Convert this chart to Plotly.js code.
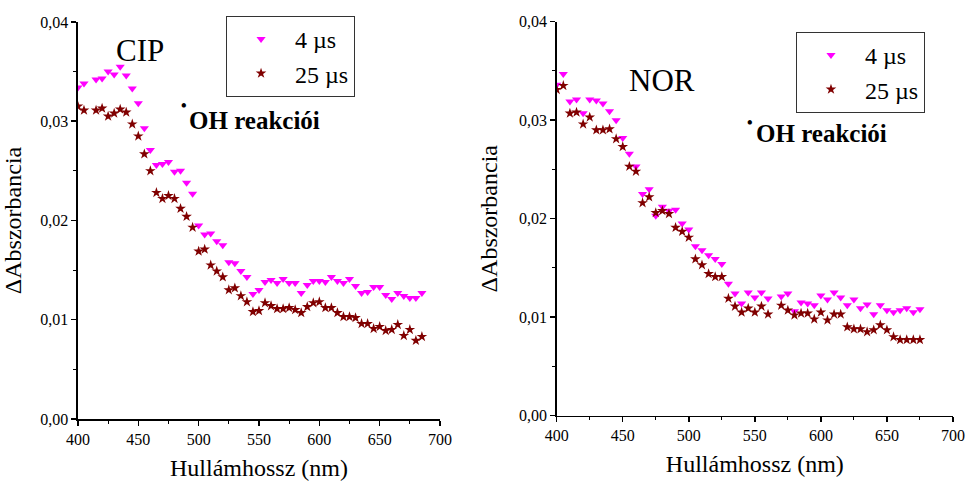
<!DOCTYPE html>
<html>
<head>
<meta charset="utf-8">
<script src="https://cdn.plot.ly/plotly-3.0.1.min.js"></script>
<style>html,body{margin:0;padding:0;background:#fff;}#chart{width:966px;height:482px;}</style>
</head>
<body>
<div id="chart"></div>
<script>
// CIP panel
var cipWavelength = [400,405,415,420,425,430,435,440,445,450,455,460,465,470,475,480,485,490,495,500,505,510,515,520,525,530,535,540,545,550,555,560,565,570,575,580,585,590,595,600,605,610,615,620,625,630,635,640,645,650,655,660,665,670,675,680,685];
var cip4us = [0.0334,0.0338,0.0342,0.0343,0.0350,0.0347,0.0355,0.0346,0.0333,0.0318,0.0293,0.0271,0.0256,0.0257,0.0259,0.0249,0.0250,0.0238,0.0227,0.0195,0.0186,0.0187,0.0179,0.0175,0.0158,0.0157,0.0149,0.0143,0.0126,0.0130,0.0138,0.0140,0.0137,0.0141,0.0137,0.0137,0.0127,0.0135,0.0139,0.0139,0.0138,0.0143,0.0139,0.0137,0.0141,0.0134,0.0127,0.0128,0.0133,0.0133,0.0125,0.0121,0.0127,0.0124,0.0122,0.0122,0.0127];
var cip25us = [0.0315,0.0311,0.0311,0.0313,0.0305,0.0308,0.0312,0.0309,0.0297,0.0285,0.0267,0.0250,0.0228,0.0222,0.0225,0.0222,0.0212,0.0204,0.0193,0.0169,0.0171,0.0155,0.0149,0.0143,0.0130,0.0132,0.0124,0.0118,0.0108,0.0109,0.0117,0.0114,0.0111,0.0111,0.0112,0.0110,0.0107,0.0113,0.0117,0.0118,0.0112,0.0112,0.0107,0.0103,0.0103,0.0102,0.0096,0.0096,0.0091,0.0093,0.0089,0.0090,0.0095,0.0084,0.0090,0.0079,0.0083];

// NOR panel
var norWavelength = [400,405,410,415,420,425,430,435,440,445,450,455,460,465,470,475,480,485,490,495,500,505,510,515,520,525,530,535,540,545,550,555,560,570,575,580,585,590,595,600,605,610,615,620,625,630,635,640,645,650,655,660,665,670,675];
var nor4us = [0.0336,0.0347,0.0319,0.0321,0.0307,0.0321,0.0320,0.0317,0.0309,0.0300,0.0282,0.0266,0.0253,0.0225,0.0230,0.0203,0.0212,0.0208,0.0209,0.0195,0.0189,0.0172,0.0168,0.0163,0.0159,0.0154,0.0134,0.0124,0.0114,0.0125,0.0120,0.0125,0.0119,0.0121,0.0124,0.0106,0.0115,0.0114,0.0112,0.0122,0.0118,0.0125,0.0120,0.0112,0.0118,0.0109,0.0113,0.0103,0.0112,0.0107,0.0105,0.0107,0.0109,0.0105,0.0108];
var nor25us = [0.0331,0.0335,0.0307,0.0308,0.0296,0.0303,0.0290,0.0290,0.0291,0.0281,0.0273,0.0253,0.0248,0.0216,0.0222,0.0206,0.0208,0.0205,0.0191,0.0187,0.0181,0.0159,0.0153,0.0144,0.0141,0.0141,0.0119,0.0111,0.0105,0.0109,0.0105,0.0111,0.0103,0.0112,0.0107,0.0102,0.0104,0.0104,0.0098,0.0105,0.0097,0.0103,0.0103,0.0090,0.0088,0.0088,0.0085,0.0087,0.0092,0.0087,0.0080,0.0077,0.0077,0.0077,0.0077];

var seriesNames = ['4 µs', '25 µs'];
var panelLabels = ['CIP', 'NOR'];
var xTitle = 'Hullámhossz (nm)';
var yTitle = 'ΔAbszorbancia';
var noteText = 'OH reakciói';

var FONT = 'Liberation Serif';
var C4 = '#FF00FF', C25 = '#800000';

function tr(x, y, name, color, symbol, xa, ya, lg) {
  return {x: x, y: y, name: name, type: 'scatter', mode: 'markers',
    xaxis: xa, yaxis: ya, legend: lg,
    marker: {color: color, symbol: symbol, size: 8, line: {width: 0}}};
}
var data = [
  tr(cipWavelength, cip4us, seriesNames[0], C4, 'triangle-down', 'x', 'y', 'legend'),
  tr(cipWavelength, cip25us, seriesNames[1], C25, 'star', 'x', 'y', 'legend'),
  tr(norWavelength, nor4us, seriesNames[0], C4, 'triangle-down', 'x2', 'y2', 'legend2'),
  tr(norWavelength, nor25us, seriesNames[1], C25, 'star', 'x2', 'y2', 'legend2')
];

function xax(dom, anchor) {
  return {domain: dom, anchor: anchor, range: [400, 700], tick0: 400, dtick: 50,
    ticks: 'outside', ticklen: 5, tickwidth: 1.5, tickcolor: 'black',
    showline: true, linewidth: 1.5, linecolor: 'black', showgrid: false, zeroline: false,
    minor: {dtick: 25, ticks: 'outside', ticklen: 3, tickwidth: 1, tickcolor: 'black', showgrid: false},
    tickfont: {size: 16, family: FONT, color: 'black'}, automargin: false,
    title: {text: xTitle, font: {size: 24, family: FONT, color: 'black'}, standoff: 12}};
}
function yax(dom, anchor) {
  return {domain: dom, anchor: anchor, range: [0, 0.04], tick0: 0, dtick: 0.01, tickformat: '.2f',
    ticks: 'outside', ticklen: 5, tickwidth: 1.5, tickcolor: 'black',
    showline: true, linewidth: 1.5, linecolor: 'black', showgrid: false, zeroline: false,
    minor: {dtick: 0.005, ticks: 'outside', ticklen: 3, tickwidth: 1, tickcolor: 'black', showgrid: false},
    tickfont: {size: 16, family: FONT, color: 'black'}, automargin: false,
    title: {text: yTitle, font: {size: 24, family: FONT, color: 'black'}, standoff: 14}};
}
function leg(x, y) {
  return {x: x, y: y, xanchor: 'left', yanchor: 'top', bordercolor: '#333', borderwidth: 1,
    bgcolor: 'white', font: {size: 24, family: FONT, color: 'black'}, itemwidth: 58, tracegroupgap: 0};
}
function ann(text, x, y, size, bold) {
  return {text: bold ? '<b>' + text + '</b>' : text, x: x, y: y, xref: 'paper', yref: 'paper',
    xanchor: 'center', yanchor: 'middle', showarrow: false,
    font: {size: size, family: FONT, color: 'black'}};
}

var layout = {
  width: 966, height: 482, margin: {l: 0, r: 0, t: 0, b: 0},
  paper_bgcolor: 'white', plot_bgcolor: 'white', separators: ',.',
  font: {family: FONT, color: 'black'},
  xaxis: xax([0.0807, 0.4555], 'y'),
  yaxis: yax([0.1307, 0.9544], 'x'),
  xaxis2: xax([0.5763, 0.9865], 'y2'),
  yaxis2: yax([0.1376, 0.955], 'x2'),
  showlegend: true,
  legend: leg(0.234, 0.9668),
  legend2: leg(0.824, 0.9336),
  annotations: [
    ann(panelLabels[0], 0.1454, 0.8952, 31, false),
    ann(panelLabels[1], 0.6853, 0.834, 31, false),
    ann('•', 0.1903, 0.782, 16, true),
    ann(noteText, 0.2635, 0.751, 25, true),
    ann('•', 0.7760, 0.7468, 16, true),
    ann(noteText, 0.8499, 0.722, 25, true)
  ]
};

Plotly.newPlot('chart', data, layout, {staticPlot: true, displayModeBar: false});
</script>
</body>
</html>
